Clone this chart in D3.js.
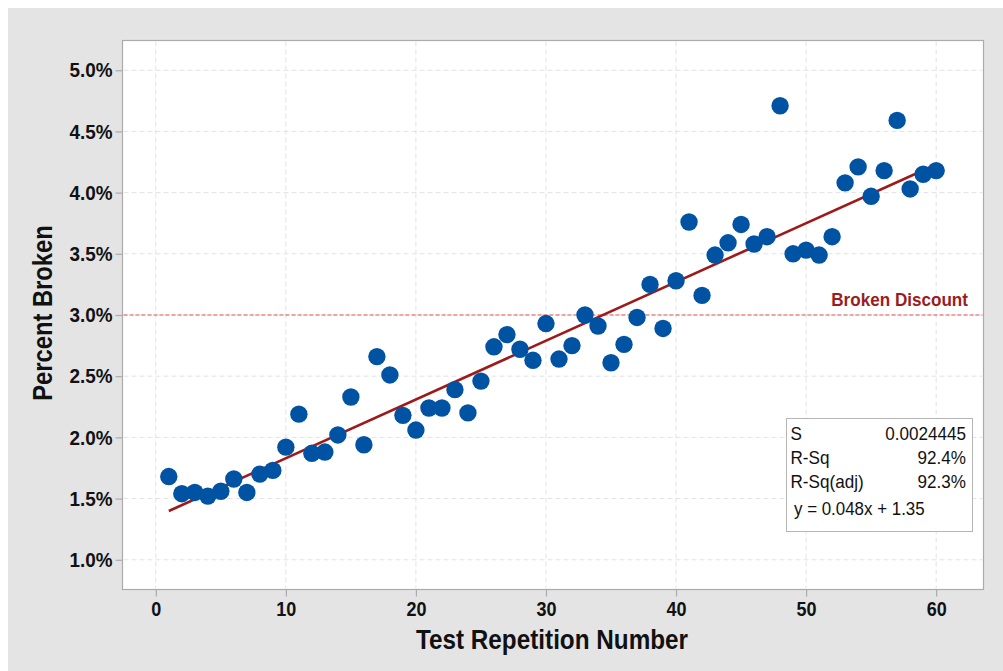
<!DOCTYPE html>
<html>
<head>
<meta charset="utf-8">
<script src="https://cdn.jsdelivr.net/npm/d3@7"></script>
<style>
  html, body { margin: 0; padding: 0; background: #ffffff; }
  svg { display: block; }
  text { font-family: "Liberation Sans", Arial, sans-serif; }
</style>
</head>
<body>
<svg id="chart" width="1003" height="671"></svg>
<script>
// Test repetition number and percent broken for each run
const repetitions = d3.range(1, 61);
const percentBroken = [
  1.68, 1.54, 1.55, 1.52, 1.56, 1.66, 1.55, 1.70, 1.73, 1.92,
  2.19, 1.87, 1.88, 2.02, 2.33, 1.94, 2.66, 2.51, 2.18, 2.06,
  2.24, 2.24, 2.39, 2.20, 2.46, 2.74, 2.84, 2.72, 2.63, 2.93,
  2.64, 2.75, 3.00, 2.91, 2.61, 2.76, 2.98, 3.25, 2.89, 3.28,
  3.76, 3.16, 3.49, 3.59, 3.74, 3.58, 3.64, 4.71, 3.50, 3.53,
  3.49, 3.64, 4.08, 4.21, 3.97, 4.18, 4.59, 4.03, 4.15, 4.18
];

// Fitted line y = slope * x + intercept
const fitSlope = 0.048;
const fitIntercept = 1.35;
const fitRange = [1, 60];

// Reference threshold
const discountLevel = 3.0;
const discountLabel = "Broken Discount";

// Axis ticks
const xTicks = [0, 10, 20, 30, 40, 50, 60];
const yTicks = [1.0, 1.5, 2.0, 2.5, 3.0, 3.5, 4.0, 4.5, 5.0];

// Regression summary rows
const statNames = ["S", "R-Sq", "R-Sq(adj)"];
const statValues = ["0.0024445", "92.4%", "92.3%"];
const equationText = "y = 0.048x + 1.35";

// Squeeze text horizontally around its anchor to get a condensed face
function condense(sel, sx) {
  sel.each(function () {
    const t = d3.select(this);
    const x0 = +t.attr("x") || 0;
    const prev = t.attr("transform") || "";
    t.attr("x", 0).attr("transform", `${prev} translate(${x0},0) scale(${sx},1)`);
  });
}

const svg = d3.select("#chart");

// Outer gray panel
svg.append("rect").attr("x", 8).attr("y", 8).attr("width", 995).attr("height", 663).attr("fill", "#e4e4e4");

const plot = { left: 122.5, top: 40.5, right: 983.5, bottom: 589.5 };

const x = d3.scaleLinear().domain([-2.56, 63.64]).range([plot.left, plot.right]);
const y = d3.scaleLinear().domain([0.757, 5.243]).range([plot.bottom, plot.top]);

// Plot area
svg.append("rect")
  .attr("x", plot.left).attr("y", plot.top)
  .attr("width", plot.right - plot.left).attr("height", plot.bottom - plot.top)
  .attr("fill", "#ffffff").attr("stroke", "#ababab").attr("stroke-width", 1.2);

// Grid lines
const grid = svg.append("g").attr("stroke", "#e3e3e3").attr("stroke-width", 1).attr("stroke-dasharray", "5,3");
grid.selectAll("line.v").data(xTicks).join("line")
  .attr("x1", d => x(d)).attr("x2", d => x(d))
  .attr("y1", plot.top + 1).attr("y2", plot.bottom - 1);
grid.selectAll("line.h").data(yTicks).join("line")
  .attr("x1", plot.left + 1).attr("x2", plot.right - 1)
  .attr("y1", d => y(d)).attr("y2", d => y(d));

// Axes
const xAxis = svg.append("g")
  .attr("transform", `translate(0,${plot.bottom})`)
  .call(d3.axisBottom(x).tickValues(xTicks).tickSize(7).tickPadding(5).tickFormat(d3.format("d")));
const yAxis = svg.append("g")
  .attr("transform", `translate(${plot.left},0)`)
  .call(d3.axisLeft(y).tickValues(yTicks).tickSize(7).tickPadding(3).tickFormat(d => d.toFixed(1) + "%"));

[xAxis, yAxis].forEach(a => {
  a.select(".domain").remove();
  a.selectAll(".tick line").attr("stroke", "#ababab").attr("stroke-width", 1.2);
  a.selectAll(".tick text")
    .attr("fill", "#111111")
    .attr("font-weight", "bold")
    .style("font-family", "'Liberation Sans', Arial, sans-serif");
});
xAxis.selectAll(".tick text").attr("font-size", 20);
yAxis.selectAll(".tick text").attr("font-size", 21);
condense(xAxis.selectAll(".tick text"), 0.9);
condense(yAxis.selectAll(".tick text"), 0.9);

// Axis titles
svg.append("text")
  .attr("transform", `translate(${(415 + 689) / 2},649) scale(0.9,1)`)
  .attr("text-anchor", "middle")
  .attr("font-size", 27).attr("font-weight", "bold").attr("fill", "#111111")
  .text("Test Repetition Number");
svg.append("text")
  .attr("transform", "translate(52,313) rotate(-90) scale(0.88,1)")
  .attr("text-anchor", "middle")
  .attr("font-size", 27).attr("font-weight", "bold").attr("fill", "#111111")
  .text("Percent Broken");

// Threshold line and label
svg.append("line")
  .attr("x1", plot.left + 1).attr("x2", plot.right - 1)
  .attr("y1", y(discountLevel)).attr("y2", y(discountLevel))
  .attr("stroke", "#e25353").attr("stroke-width", 1.2).attr("stroke-dasharray", "4,2");
svg.append("text")
  .attr("transform", `translate(968,${y(discountLevel) - 9}) scale(0.9,1)`)
  .attr("text-anchor", "end")
  .attr("font-size", 19).attr("font-weight", "bold").attr("fill", "#9c1c1c")
  .text(discountLabel);

// Fitted line
svg.append("line")
  .attr("x1", x(fitRange[0])).attr("y1", y(fitSlope * fitRange[0] + fitIntercept))
  .attr("x2", x(fitRange[1])).attr("y2", y(fitSlope * fitRange[1] + fitIntercept))
  .attr("stroke", "#9e1a1a").attr("stroke-width", 2.6);

// Observations
svg.append("g").selectAll("circle")
  .data(repetitions.map((r, i) => ({ r, v: percentBroken[i] })))
  .join("circle")
  .attr("cx", d => x(d.r)).attr("cy", d => y(d.v))
  .attr("r", 8.7).attr("fill", "#0053a3");

// Regression summary box
const box = svg.append("g");
box.append("rect")
  .attr("x", 786.5).attr("y", 418.5).attr("width", 186).attr("height", 113)
  .attr("fill", "#ffffff").attr("stroke", "#b5b5b5").attr("stroke-width", 1);
const rowY = [439.5, 463.5, 487.5];
statNames.forEach((n, i) => {
  box.append("text").attr("transform", `translate(790.5,${rowY[i]}) scale(0.95,1)`)
    .attr("font-size", 18).attr("fill", "#111111").text(n);
  box.append("text").attr("transform", `translate(966,${rowY[i]}) scale(0.95,1)`)
    .attr("text-anchor", "end").attr("font-size", 18).attr("fill", "#111111").text(statValues[i]);
});
box.append("text").attr("transform", "translate(794,515) scale(0.94,1)")
  .attr("font-size", 18).attr("fill", "#111111").text(equationText);
</script>
</body>
</html>
